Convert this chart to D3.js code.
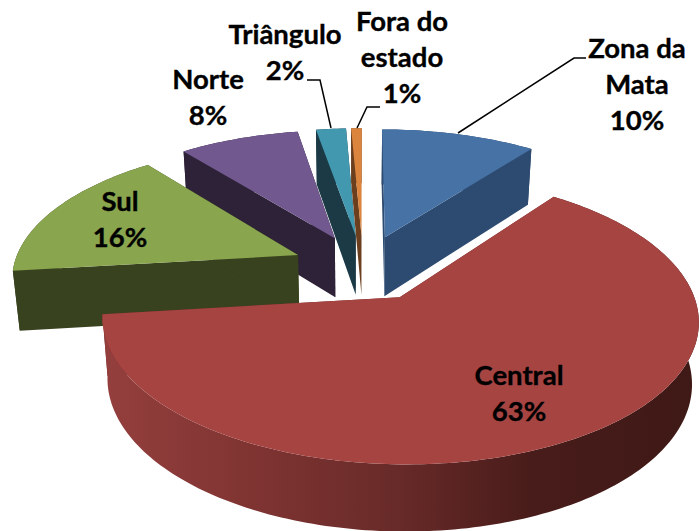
<!DOCTYPE html>
<html>
<head>
<meta charset="utf-8">
<script src="https://cdn.jsdelivr.net/npm/d3@7"></script>
<style>
  html, body { margin: 0; padding: 0; background: #fff; overflow: hidden; }
  text { font-family: Lato, "Open Sans", sans-serif; font-weight: 700; font-size: 27.5px; fill: #000; stroke: #000; stroke-width: 0.35px; text-anchor: middle; }
</style>
</head>
<body>
<div id="chart"></div>
<script>
// values (labels are the rounded ones)
var categories = ["Zona da Mata", "Central", "Sul", "Norte", "Triângulo", "Fora do estado"];
var shares = [10.3, 62.8, 16.2, 8, 2, 0.7];
var topColors = ["#4672a6", "#a64442", "#89a54e", "#71588f", "#4198af", "#db843d"];
var wallColors = ["#2d4b70", "#6e2b29", "#38421e", "#2e2238", "#1b3a46", "#6b3f1e"];

var width = 699, height = 531;

// projection of the tilted pie plane, fitted on the reference
var cx = 363, cy = 267.5, ax = 285, by = 132.3, persp = 0.15;
var explode = 0.25;
var drop = 55, dropGrow = 0.036, dropBaseY = 128, shrink = 0.02, shrinkX = 358;

function project(x, y) {
  var w = 1 - persp * y;
  return [cx + ax * x / w, cy + by * y / w];
}
function lower(p) {
  return [p[0] - shrink * (p[0] - shrinkX), p[1] + drop + dropGrow * (p[1] - dropBaseY)];
}

var pie = d3.pie().sort(null).value(function(d) { return d; });
var arcs = pie(shares);

var svg = d3.select("#chart").append("svg").attr("width", width).attr("height", height);

var grad = svg.append("defs").append("linearGradient")
  .attr("id", "centralWall")
  .attr("gradientUnits", "userSpaceOnUse")
  .attr("x1", 103).attr("x2", 699).attr("y1", 0).attr("y2", 0);
grad.append("stop").attr("offset", "0%").attr("stop-color", "#943f3d");
grad.append("stop").attr("offset", "25%").attr("stop-color", "#7f3432");
grad.append("stop").attr("offset", "50%").attr("stop-color", "#672a28");
grad.append("stop").attr("offset", "72%").attr("stop-color", "#481c1a");
grad.append("stop").attr("offset", "100%").attr("stop-color", "#3e1916");

var line = d3.line();

function sliceGeometry(a) {
  var mid = (a.startAngle + a.endAngle) / 2;
  var ox = explode * Math.sin(mid), oy = -explode * Math.cos(mid);
  var steps = Math.max(2, Math.ceil((a.endAngle - a.startAngle) / 0.02));
  var rim = d3.range(steps + 1).map(function(i) {
    var t = a.startAngle + (a.endAngle - a.startAngle) * i / steps;
    return project(ox + Math.sin(t), oy - Math.cos(t));
  });
  return { apex: project(ox, oy), rim: rim };
}

// back to front
var order = [3, 4, 5, 0, 2, 1];
order.forEach(function(i) {
  var g = sliceGeometry(arcs[i]);
  var wall = i == 1 ? "url(#centralWall)" : wallColors[i];
  var first = g.rim[0], last = g.rim[g.rim.length - 1];
  var group = svg.append("g").attr("class", "slice");

  [first, last].forEach(function(p) {
    group.append("path")
      .attr("d", line([g.apex, p, lower(p), lower(g.apex)]) + "Z")
      .attr("fill", wallColors[i]);
  });
  group.append("path")
    .attr("d", line(g.rim.concat(g.rim.slice().reverse().map(lower))) + "Z")
    .attr("fill", wall);
  group.append("path")
    .attr("d", line([g.apex].concat(g.rim)) + "Z")
    .attr("fill", topColors[i]);
});

// leader lines
var leaders = [
  [[458, 133], [574, 58], [586, 58]],
  [[331, 128], [320, 80], [307, 80]],
  [[357, 128], [367, 107], [380, 107]]
];
svg.selectAll("path.leader").data(leaders).enter().append("path")
  .attr("class", "leader")
  .attr("d", function(d) { return line(d); })
  .attr("fill", "none")
  .attr("stroke", "#000")
  .attr("stroke-width", 1.5);

// label text, one row per line; anchors are layout only
var labelLines = [["Zona da", "Mata"], ["Central"], ["Sul"], ["Norte"], ["Triângulo"], ["Fora do", "estado"]];
var labelAnchors = [[637, 58], [519, 385], [120, 211], [208, 89], [285, 44], [402, 31]];
var lineStep = 36;

arcs.forEach(function(a, i) {
  var rows = labelLines[i].concat([Math.round(a.value) + "%"]);
  var t = svg.append("text").attr("aria-label", categories[i]);
  rows.forEach(function(r, j) {
    t.append("tspan")
      .attr("x", labelAnchors[i][0])
      .attr("y", labelAnchors[i][1] + j * lineStep)
      .text(r);
  });
});
</script>
</body>
</html>
